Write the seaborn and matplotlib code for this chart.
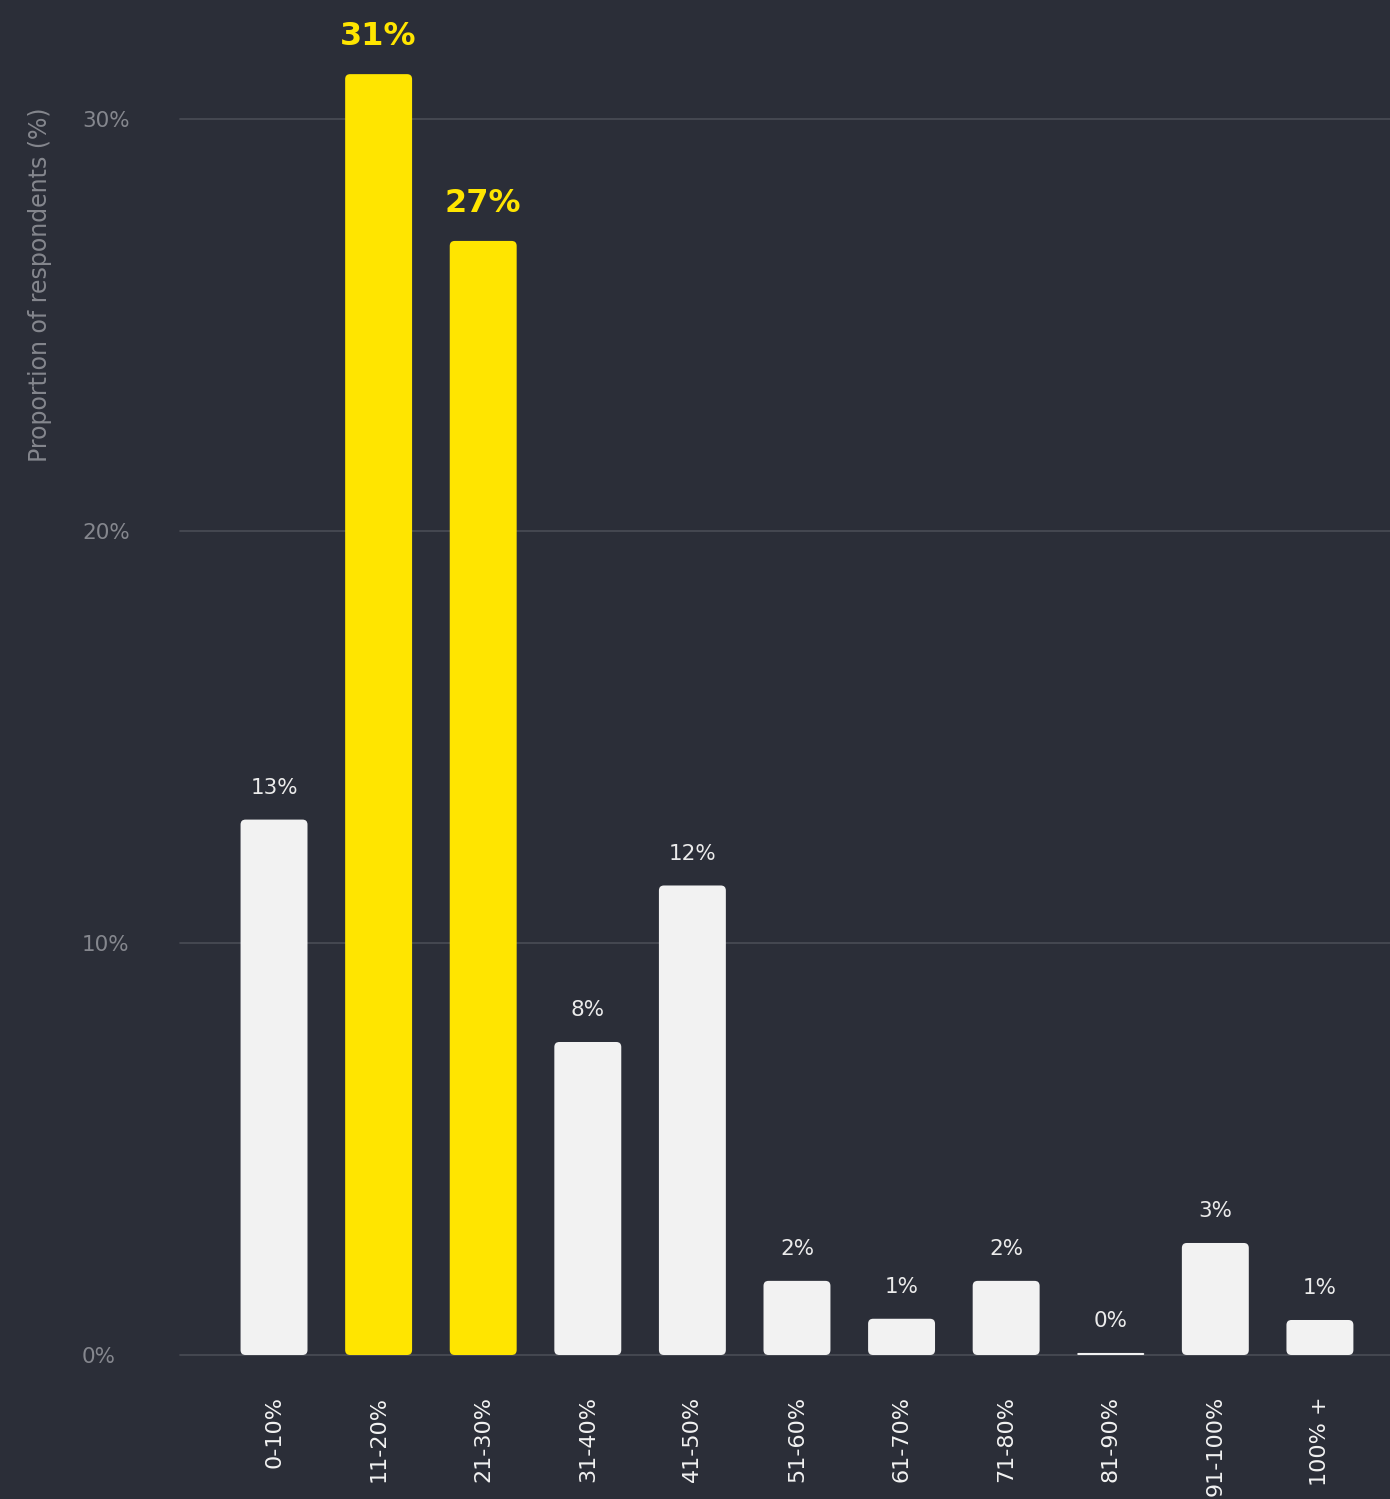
import matplotlib
matplotlib.use("Agg")
import matplotlib.pyplot as plt
from matplotlib.patches import FancyBboxPatch
import seaborn as sns
import pandas as pd

# data
ranges = ["0-10%", "11-20%", "21-30%", "31-40%", "41-50%", "51-60%",
          "61-70%", "71-80%", "81-90%", "91-100%", "100% +"]
shares = [13.0, 31.1, 27.05, 7.6, 11.4, 1.8, 0.88, 1.8, 0.05, 2.72, 0.85]
bar_labels = ["13%", "31%", "27%", "8%", "12%", "2%", "1%", "2%", "0%", "3%", "1%"]
highlighted = ["11-20%", "21-30%"]
y_ticks = [0, 10, 20, 30]
y_tick_labels = ["0%", "10%", "20%", "30%"]

BG = "#2b2e38"
YELLOW = "#ffe500"
WHITE = "#f2f2f2"
GRID = "#4a4d56"
GREY = "#85878e"

sns.set_style("dark", {"axes.facecolor": BG, "figure.facecolor": BG})
plt.rcParams["font.family"] = ["DejaVu Sans"]

fig = plt.figure(figsize=(13.9, 14.99), dpi=100)
ax = fig.add_axes([180 / 1390, 144 / 1499, 1210 / 1390, 1355 / 1499])

df = pd.DataFrame({"range": ranges, "share": shares})
palette = {r: (YELLOW if r in highlighted else WHITE) for r in ranges}
sns.barplot(data=df, x="range", y="share", hue="range", palette=palette,
            width=0.64, saturation=1, legend=False, ax=ax, zorder=3)

ax.set_xlim(-0.899, 10.67)
ax.set_ylim(0, 32.9)

# swap plain rectangles for slightly rounded ones
px_x = 1210 / (10.67 + 0.899)
px_y = 1355 / 32.9
for p in list(ax.patches):
    x, y, w, h = p.get_x(), p.get_y(), p.get_width(), p.get_height()
    col = p.get_facecolor()
    p.remove()
    r = min(5 / px_x, (h * px_y / 2) / px_x)
    fb = FancyBboxPatch((x, y), w, h, boxstyle=f"round,pad=0,rounding_size={r}",
                        mutation_aspect=px_x / px_y, facecolor=col,
                        edgecolor="none", zorder=3)
    ax.add_patch(fb)

for i, (v, lab) in enumerate(zip(shares, bar_labels)):
    if ranges[i] in highlighted:
        ax.annotate(lab, (i, v), xytext=(0, 21), textcoords="offset points",
                    ha="center", va="baseline", color=YELLOW, fontsize=23,
                    fontweight="bold")
    else:
        ax.annotate(lab, (i, v), xytext=(0, 18.7), textcoords="offset points",
                    ha="center", va="baseline", color="#ebebeb", fontsize=15.5)

ax.set_yticks(y_ticks)
ax.set_yticklabels(y_tick_labels, color=GREY, fontsize=15.5, ha="left")
ax.tick_params(axis="y", length=0, pad=70.5)
ax.tick_params(axis="x", length=0, pad=29.5, labelrotation=90,
               labelcolor=WHITE, labelsize=16)

ax.yaxis.grid(True, color=GRID, lw=1.2)
ax.xaxis.grid(False)
for gl in ax.get_ygridlines():
    gl.set_clip_on(False)
ax.set_axisbelow(True)
for s in ax.spines.values():
    s.set_visible(False)

ax.set_xlabel("")
ax.set_ylabel("Proportion of respondents (%)", color=GREY, fontsize=17)
ax.yaxis.set_label_coords(-0.106, 0.79)

fig.savefig("out.png", dpi=100, facecolor=BG)
